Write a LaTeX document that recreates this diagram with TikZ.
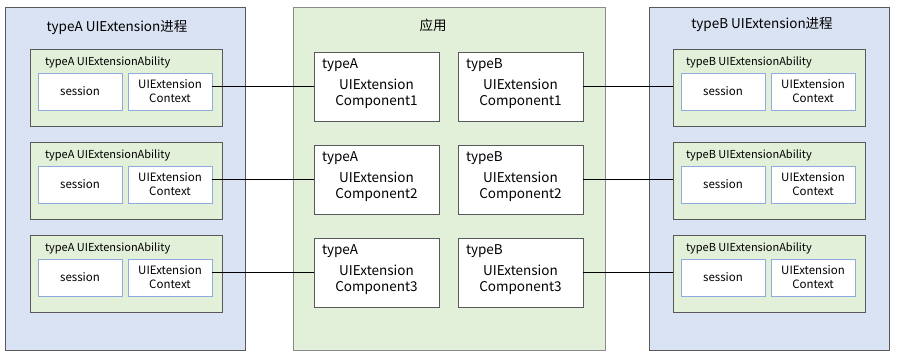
\documentclass[tikz,border=0pt]{standalone}
\usepackage{fontspec}
\setmainfont{Noto Sans CJK SC}
\usetikzlibrary{positioning}
\definecolor{procblue}{HTML}{DAE3F3}
\definecolor{appgreen}{HTML}{E2F0D9}
\definecolor{framegray}{HTML}{595959}
\definecolor{cellblue}{HTML}{8FAADC}
\tikzset{
  procbox/.style={draw=framegray, fill=procblue, minimum width=240pt, minimum height=343pt, inner sep=0pt},
  appbox/.style={draw=framegray!70, fill=appgreen, minimum width=312pt, minimum height=343pt, inner sep=0pt},
  abilitybox/.style={draw=framegray, fill=appgreen, minimum width=192pt, minimum height=77pt, inner sep=0pt},
  cellbox/.style={draw=cellblue, fill=white, minimum width=84pt, minimum height=37pt, inner sep=0pt, align=center,
    font=\fontsize{11.5}{14}\selectfont},
  compbox/.style={draw=framegray, fill=white, minimum width=125pt, minimum height=69pt, inner sep=0pt},
  bigtext/.style={font=\fontsize{13.5}{16}\selectfont, inner sep=0pt, align=center},
  smalltext/.style={font=\fontsize{11}{13}\selectfont, inner sep=0pt, anchor=west},
}
\begin{document}
\begin{tikzpicture}[x=1pt, y=-1pt]
  \useasboundingbox (0,0) rectangle (900,360);
  % Procesos y aplicacion
  \node[procbox] (procA) at (125.5,178.5) {};
  \node[appbox] (app) at (449,178.5) {};
  \node[procbox] (procB) at (769.5,178.5) {};
  \node[bigtext] (procAtitle) at (117,27) {typeA UIExtension进程};
  \node[bigtext] (apptitle) at (433,25) {应用};
  \node[bigtext] (procBtitle) at (762,24) {typeB UIExtension进程};
  % Filas: ability, session, context y componentes
  \foreach \i/\y in {1/87.5,2/180.5,3/273.5} {
    % lado typeA
    \node[abilitybox] (abA\i) at (126,\y) {};
    \node[smalltext] (abAtitle\i) at ([shift={(15,14)}]abA\i.north west) {typeA UIExtensionAbility};
    \node[cellbox] (sesA\i) at (80,\y+4) {session};
    \node[cellbox] (ctxA\i) at (170,\y+4) {UIExtension\\Context};
    % lado typeB
    \node[abilitybox] (abB\i) at (769,\y) {};
    \node[smalltext] (abBtitle\i) at ([shift={(13,14)}]abB\i.north west) {typeB UIExtensionAbility};
    \node[cellbox] (sesB\i) at (723,\y+4) {session};
    \node[cellbox] (ctxB\i) at (813,\y+4) {UIExtension\\Context};
    % componentes
    \node[compbox] (compA\i) at (376.5,\y-1) {};
    \node[bigtext, anchor=west] (compAtype\i) at ([shift={(8,13)}]compA\i.north west) {typeA};
    \node[bigtext] (compAname\i) at ([shift={(0,7.5)}]compA\i.center) {UIExtension\\Component\i};
    \node[compbox] (compB\i) at (520.5,\y-1) {};
    \node[bigtext, anchor=west] (compBtype\i) at ([shift={(8,13)}]compB\i.north west) {typeB};
    \node[bigtext] (compBname\i) at ([shift={(0,7.5)}]compB\i.center) {UIExtension\\Component\i};
    % conexiones
    \draw (ctxA\i.east |- compA\i.west) -- (compA\i.west);
    \draw (compB\i.east) -- (compB\i.east -| abB\i.west);
  }
\end{tikzpicture}
\end{document}
